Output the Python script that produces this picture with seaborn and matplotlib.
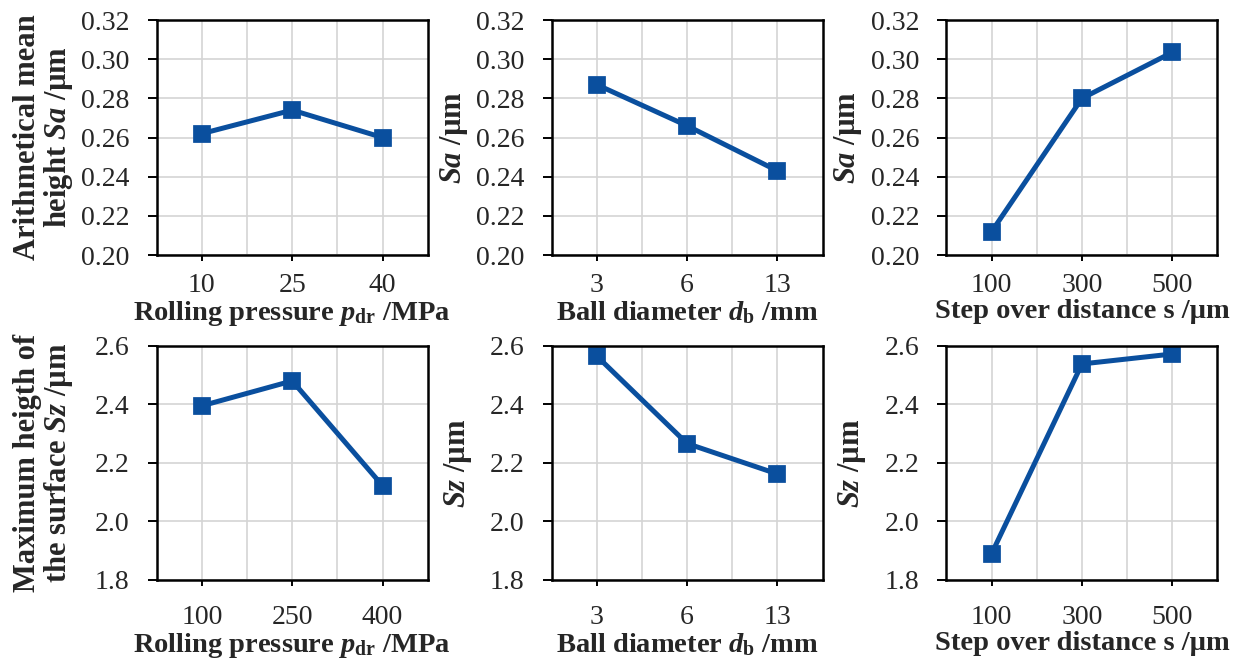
import matplotlib
matplotlib.use("Agg")
import matplotlib.pyplot as plt
import seaborn as sns
from matplotlib.ticker import FormatStrFormatter, FixedLocator

# ---- data ----
pressure_top = ["10", "25", "40"]
pressure_bot = ["100", "250", "400"]
ball_diam = ["3", "6", "13"]
step_over = ["100", "300", "500"]

sa_pressure = [0.262, 0.274, 0.260]
sa_ball = [0.287, 0.266, 0.243]
sa_step = [0.212, 0.280, 0.3035]

sz_pressure = [2.395, 2.480, 2.122]
sz_ball = [2.565, 2.266, 2.162]
sz_step = [1.890, 2.538, 2.572]

xlabels = [r"Rolling pressure $p_\mathrm{dr}$ /MPa",
           r"Ball diameter $d_\mathrm{b}$ /mm",
           "Step over distance s /µm"]
ylab_sa = ["Arithmetical mean\nheight $Sa$ /µm", "$Sa$ /µm", "$Sa$ /µm"]
ylab_sz = ["Maximum heigth of\nthe surface $Sz$ /µm", "$Sz$ /µm", "$Sz$ /µm"]

sns.set_theme(style="ticks")
plt.rcParams["font.family"] = ["Liberation Serif", "DejaVu Serif"]
plt.rcParams.update({
    "mathtext.fontset": "custom",
    "mathtext.rm": "Liberation Serif:bold",
    "mathtext.it": "Liberation Serif:italic:bold",
    "mathtext.bf": "Liberation Serif:bold",
})

blue = "#0A4F9E"
grid_col = "#D4D4D4"

fig = plt.figure(figsize=(12.34, 6.65), dpi=100)
lefts = [0.127, 0.447, 0.767]
w = 0.2196
rows = [
    dict(bottom=0.6165, h=0.3534, cats=[pressure_top, ball_diam, step_over],
         vals=[sa_pressure, sa_ball, sa_step], ylabs=ylab_sa,
         ylim=(0.20, 0.32), yt=[0.20, 0.22, 0.24, 0.26, 0.28, 0.30, 0.32], fmt="%.2f",
         lx=[-0.30, -0.30, -0.305], xpad=9),
    dict(bottom=0.128, h=0.352, cats=[pressure_bot, ball_diam, step_over],
         vals=[sz_pressure, sz_ball, sz_step], ylabs=ylab_sz,
         ylim=(1.8, 2.6), yt=[1.8, 2.0, 2.2, 2.4, 2.6], fmt="%.1f",
         lx=[-0.30, -0.285, -0.29], xpad=14),
]

for row in rows:
    for i in range(3):
        ax = fig.add_axes([lefts[i], row["bottom"], w, row["h"]])
        sns.pointplot(x=row["cats"][i], y=row["vals"][i], ax=ax, color=blue,
                      errorbar=None, marker="s", markersize=10.5, linewidth=3.6)
        ax.set_xlim(-0.5, 2.5)
        ax.set_ylim(*row["ylim"])
        ax.set_yticks(row["yt"])
        ax.yaxis.set_major_formatter(FormatStrFormatter(row["fmt"]))
        ax.xaxis.set_minor_locator(FixedLocator([0.5, 1.5]))
        ax.grid(True, which="both", color=grid_col, linewidth=1.2)
        ax.set_axisbelow(True)
        for s in ax.spines.values():
            s.set_visible(True)
            s.set_color("black")
            s.set_linewidth(1.8)
        ax.tick_params(axis="y", direction="out", length=6.5, width=1.4,
                       labelsize=20, pad=13, color="black")
        ax.tick_params(axis="x", which="major", direction="out", length=4, width=1.4,
                       labelsize=20, pad=row["xpad"], color="black")
        ax.tick_params(axis="x", which="minor", length=0)
        ax.set_xlabel(xlabels[i], fontsize=20.5, fontweight="bold", labelpad=1)
        ax.set_ylabel(row["ylabs"][i], fontsize=22, fontweight="bold",
                      linespacing=1.0)
        ax.yaxis.set_label_coords(row["lx"][i], 0.5)

fig.savefig("out.png", dpi=100, facecolor="white")
